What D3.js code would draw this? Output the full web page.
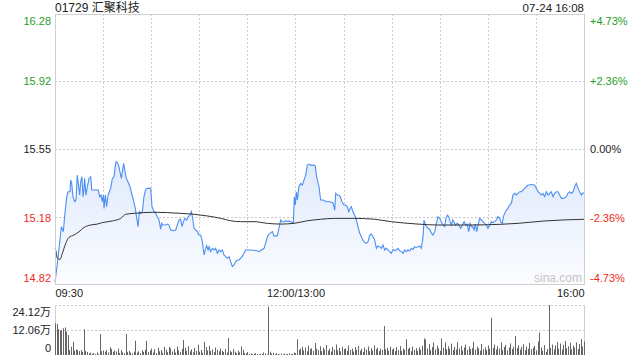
<!DOCTYPE html>
<html><head><meta charset="utf-8">
<script src="https://cdn.jsdelivr.net/npm/d3@7/dist/d3.min.js"></script>
<style>
body{margin:0;background:#fff;}
svg{display:block;font-family:"Liberation Sans",Arial,"Noto Sans CJK SC",sans-serif;}
</style></head>
<body><svg id="c" width="640" height="360"></svg>
<script>
const title = "01729 汇聚科技";
const stamp = "07-24 16:08";
const prevClose = 15.55;
const priceTicks = [16.28, 15.92, 15.55, 15.18, 14.82];
const pctLabels = ["+4.73%", "+2.36%", "0.00%", "-2.36%", "-4.73%"];
const timeTicks = [0, 150, 330];
const timeLabels = ["09:30", "12:00/13:00", "16:00"];
const volTicks = [0, 12.06, 24.12];
const volLabels = ["0", "12.06万", "24.12万"];

// minute index (0 = 09:30, 150 = 12:00/13:00, 330 = 16:00) and price
const priceMin = [0,1.5,3.1,4.0,5.2,6.0,7.3,8.1,9.4,9.8,10.4,11.2,12.3,13.1,13.9,14.8,15.4,16.0,16.8,17.5,18.1,18.5,19.3,20.2,21.2,22.3,22.9,24.3,27.0,27.9,28.7,29.5,30.2,30.6,31.4,32.2,33.1,33.9,34.7,35.8,36.8,37.4,38.1,38.9,39.7,40.3,41.4,42.2,42.8,43.7,44.5,45.5,46.8,47.8,48.9,50.1,51.0,51.8,52.6,53.4,54.5,55.5,56.6,57.6,59.7,60.5,61.3,62.8,63.8,64.9,65.9,66.5,67.4,69.0,70.1,71.1,72.2,73.8,75.3,76.3,77.4,78.4,79.2,80.1,81.1,82.1,83.2,84.2,85.1,85.9,86.7,87.8,88.8,89.8,90.9,91.9,93.0,94.0,94.6,95.5,96.1,97.1,98.2,99.2,100.2,101.3,102.3,103.4,104.4,105.4,106.5,107.5,108.6,109.6,110.6,111.7,112.7,113.7,114.8,115.8,116.9,117.9,118.9,122.1,126.2,127.3,128.7,130.4,131.4,132.5,133.1,134.1,135.6,136.6,137.7,138.7,139.7,140.8,141.6,142.9,143.9,144.9,146.0,147.0,148.1,148.7,149.3,149.9,150.6,151.2,152.2,153.3,154.3,155.3,156.4,157.4,158.5,159.5,160.5,161.6,162.4,163.2,164.7,165.7,167.2,169.3,171.4,173.4,174.5,175.1,176.1,177.0,178.0,179.0,180.3,181.3,182.4,183.2,184.2,184.9,185.9,186.9,188.0,189.0,190.1,191.1,192.1,193.2,194.2,195.3,196.3,197.3,198.4,199.4,200.5,201.5,202.5,203.6,204.6,205.7,206.7,207.7,208.8,209.8,210.9,211.9,212.9,214.0,215.0,216.1,217.1,218.1,219.2,220.2,221.3,222.3,223.3,224.4,225.4,226.5,227.5,228.5,229.6,230.2,231.0,231.9,232.7,233.7,234.8,235.8,236.9,237.9,238.9,240.0,241.0,242.1,243.1,243.9,244.8,245.6,246.4,247.3,248.1,248.9,249.7,251.0,251.8,253.1,254.1,255.2,256.2,257.2,258.1,258.9,259.7,260.6,261.4,262.2,263.1,263.9,264.9,266.0,267.0,268.0,269.1,270.1,271.2,272.2,273.2,274.3,275.3,276.4,277.4,278.0,279.1,279.7,280.5,281.6,282.6,283.6,284.7,285.7,286.8,287.8,288.8,289.9,290.9,292.0,293.0,294.0,295.1,296.1,297.2,298.2,299.2,300.3,301.3,302.4,303.4,304.4,305.5,306.5,307.6,308.6,309.6,310.7,311.7,312.8,313.8,314.8,315.9,316.9,318.0,319.0,320.0,321.1,322.1,323.2,324.2,325.2,326.3,327.3,328.4,329.0,330];
const priceVal = [14.83,14.932,15.058,15.130,15.103,15.184,15.292,15.319,15.319,15.382,15.364,15.292,15.265,15.274,15.409,15.346,15.301,15.373,15.400,15.292,15.337,15.391,15.301,15.346,15.391,15.400,15.328,15.328,15.328,15.292,15.301,15.265,15.301,15.229,15.301,15.238,15.301,15.319,15.337,15.391,15.400,15.445,15.481,15.476,15.463,15.436,15.391,15.436,15.472,15.427,15.391,15.373,15.346,15.310,15.274,15.229,15.175,15.130,15.211,15.202,15.211,15.292,15.332,15.337,15.337,15.238,15.220,15.202,15.184,15.166,15.116,15.148,15.139,15.139,15.144,15.139,15.112,15.108,15.112,15.139,15.166,15.170,15.130,15.157,15.175,15.166,15.184,15.193,15.211,15.175,15.121,15.112,15.103,15.085,15.085,15.049,14.977,15.013,15.027,15.004,15.022,14.995,15.013,15.004,15.013,14.986,15.004,14.995,15.004,14.977,14.968,14.959,14.968,14.941,14.914,14.923,14.941,14.950,14.950,14.959,14.971,14.986,15.004,15.004,15.000,14.995,15.004,15.013,15.040,15.076,15.085,15.094,15.103,15.080,15.080,15.081,15.121,15.166,15.157,15.157,15.162,15.157,15.161,15.157,15.152,15.152,15.292,15.247,15.319,15.274,15.346,15.364,15.355,15.382,15.409,15.463,15.467,15.463,15.463,15.463,15.458,15.400,15.346,15.274,15.274,15.265,15.265,15.260,15.220,15.310,15.301,15.301,15.292,15.265,15.247,15.247,15.238,15.211,15.229,15.238,15.211,15.193,15.166,15.130,15.094,15.076,15.058,15.044,15.040,15.049,15.085,15.090,15.076,15.058,15.013,15.026,15.022,15.013,15.031,15.004,15.013,15.004,14.995,14.986,15.007,15.000,15.004,15.013,15.000,14.995,14.986,15.004,14.995,15.004,14.998,15.013,15.007,15.022,15.018,15.022,15.026,15.013,15.076,15.166,15.139,15.130,15.121,15.116,15.094,15.085,15.103,15.148,15.184,15.175,15.157,15.139,15.130,15.175,15.193,15.184,15.157,15.139,15.166,15.157,15.139,15.148,15.139,15.121,15.139,15.157,15.139,15.144,15.103,15.148,15.130,15.130,15.112,15.144,15.103,15.139,15.175,15.166,15.157,15.148,15.139,15.121,15.139,15.157,15.152,15.157,15.166,15.184,15.175,15.157,15.148,15.184,15.202,15.220,15.229,15.247,15.256,15.301,15.310,15.301,15.310,15.319,15.319,15.328,15.337,15.346,15.355,15.355,15.359,15.355,15.355,15.337,15.319,15.310,15.301,15.310,15.292,15.319,15.301,15.310,15.319,15.292,15.310,15.319,15.319,15.301,15.283,15.283,15.287,15.292,15.310,15.319,15.310,15.319,15.346,15.364,15.337,15.319,15.301,15.310,15.314];

const avgMin = [0,0.4,1.5,3.1,4.6,6.7,8.7,11.9,15.0,18.1,22.2,26.4,29.5,35.8,41.0,44.1,49.3,55.5,61.8,70.1,78.4,86.7,95.0,103.4,109.6,115.8,124.1,132.5,140.8,149.1,157.4,165.7,174.5,186.9,199.4,209.8,226.5,238.9,257.6,278.4,288.8,305.5,330];
const avgVal = [15.013,15.004,14.959,14.953,14.986,15.040,15.072,15.085,15.103,15.126,15.139,15.144,15.152,15.161,15.175,15.197,15.202,15.206,15.208,15.206,15.202,15.197,15.188,15.175,15.162,15.157,15.157,15.148,15.144,15.148,15.162,15.170,15.175,15.175,15.170,15.157,15.144,15.139,15.139,15.143,15.148,15.161,15.170];

// volume per minute, unit 万 shares (index = minute)
const volumes = [15.3,15.0,12.4,11.7,12.1,12.9,13.3,11.3,9.6,
2.4,4.0,6.4,2.1,2.7,2.4,1.9,2.4,1.5,
12.5,
1.9,1.5,0.8,1.2,0.6,1.0,0.5,1.3,0.4,
10.1,
1.8,2.1,1.6,2.4,1.2,3.8,2.9,1.5,2.2,1.7,3.1,1.0,2.4,1.3,0.9,
10.1,
1.5,2.0,1.2,0.8,1.6,
6.9,
1.2,1.8,0.9,2.3,1.5,2.6,
6.8,
1.5,2.2,3.1,1.2,2.8,0.9,3.5,1.8,2.4,1.1,3.9,2.6,1.4,4.0,3.2,1.7,2.9,1.2,4.1,2.3,1.5,3.0,
7.2,
3.5,2.1,4.2,1.8,2.7,1.3,3.4,2.0,5.0,1.6,2.5,1.1,
6.4,
3.8,2.2,4.4,1.9,2.7,1.4,3.6,2.5,1.8,3.1,2.0,1.5,2.9,1.2,
8.2,
2.1,1.4,2.8,1.6,0.9,2.2,1.3,4.1,2.5,1.0,0.8,1.4,0.6,0.7,0.4,0.6,0.9,0.5,0.3,0.6,0.4,1.2,0.7,0.3,
23.3,
1.6,0.7,1.1,0.4,0.9,0.5,0.3,0.7,0.4,0.6,0.3,0.5,0.8,0.4,0.6,1.2,0.9,
7.6,
2.5,3.1,4.0,2.2,3.6,1.8,4.5,2.8,3.3,2.0,5.8,3.1,2.4,4.2,1.9,3.5,2.7,4.8,2.1,3.0,1.6,3.9,2.6,5.1,2.3,3.4,1.8,4.0,2.9,3.2,2.0,4.6,2.4,3.1,1.7,3.8,2.5,4.3,2.1,3.0,1.5,3.6,2.6,4.1,1.9,3.3,2.2,4.7,2.8,3.5,1.9,3.0,2.4,
14.0,
2.8,3.5,2.1,4.0,2.6,3.2,1.9,3.8,2.4,4.3,2.0,3.1,2.5,
7.6,
2.9,3.6,1.8,4.1,2.5,3.3,2.0,3.7,2.6,4.4,
8.0,
7.5,3.1,5.2,2.4,3.8,6.0,2.7,4.5,3.2,2.0,
8.0,
3.5,6.1,2.8,4.2,3.0,5.5,2.4,3.9,2.7,6.2,3.1,4.4,2.2,3.6,5.0,2.5,4.1,2.9,3.3,6.4,2.6,4.0,3.2,2.1,5.3,2.8,3.7,2.4,4.6,3.0,
18.0,
3.4,5.1,2.7,4.3,3.1,6.0,2.5,3.8,4.9,2.2,3.6,5.6,2.9,4.0,
9.2,
3.3,4.7,2.6,3.9,5.2,2.4,4.1,3.0,5.8,2.8,3.5,4.4,2.3,6.5,
10.8,
3.6,2.1,4.8,1.5,2.9,
24.12,
3.4,5.0,2.7,4.6,6.2,3.1,5.5,2.6,4.9,6.8,3.3,4.2,5.9,2.8,4.5,3.6,6.1,2.9,5.3,
7.7,
4.1,6.5];

const svg = d3.select("#c");
const L = 55, R = 584, T = 14, B = 284, VT = 305, VB = 355;
const green = "#1f9e1f", red = "#ee2a22", black = "#222";
const colorFor = v => v > prevClose ? green : (v < prevClose ? red : black);

const x = d3.scaleLinear().domain([0, 330]).range([L, R]);
const y = d3.scaleLinear().domain([14.82, 16.28]).range([B, T]);
const yv = d3.scaleLinear().domain([0, 24.12]).range([VB, VT]);

// title
svg.append("text").attr("x", L).attr("y", 12).attr("font-size", 12).attr("fill", "#222").text(title);
svg.append("text").attr("x", R).attr("y", 12).attr("font-size", 11.5).attr("fill", "#222").attr("text-anchor", "end").text(stamp);

// gradient
const defs = svg.append("defs");
const g = defs.append("linearGradient").attr("id", "fillg").attr("gradientUnits", "userSpaceOnUse")
  .attr("x1", 0).attr("x2", 0).attr("y1", 150).attr("y2", B);
g.append("stop").attr("offset", 0).attr("stop-color", "#dde8fb");
g.append("stop").attr("offset", 1).attr("stop-color", "#fbfcff");

// grid
const grid = svg.append("g");
[15.92, 15.55, 15.18].forEach(v => {
  grid.append("line").attr("x1", L).attr("x2", R).attr("y1", Math.round(y(v)) + 0.5).attr("y2", Math.round(y(v)) + 0.5)
    .attr("stroke", "#c8c8c8").attr("stroke-dasharray", "2,2");
});
d3.range(30, 330, 30).forEach(m => {
  const xx = Math.round(x(m)) + 0.5;
  grid.append("line").attr("x1", xx).attr("x2", xx).attr("y1", T).attr("y2", B)
    .attr("stroke", "#d0d0d0").attr("stroke-dasharray", "2,2");
});

// area + lines
const pts = priceMin.map((m, i) => [m, priceVal[i]]);
svg.append("path").datum(pts)
  .attr("d", d3.area().x(d => x(d[0])).y0(B).y1(d => y(d[1])))
  .attr("fill", "url(#fillg)");

// watermark
svg.append("text").attr("x", 582).attr("y", 282).attr("text-anchor", "end").attr("font-size", 12)
  .attr("fill", "#c4c4c4").text("sina.com");

svg.append("path").datum(pts)
  .attr("d", d3.line().x(d => x(d[0])).y(d => y(d[1])))
  .attr("fill", "none").attr("stroke", "#4b8ff0").attr("stroke-width", 1.1);
const apts = avgMin.map((m, i) => [m, avgVal[i]]);
svg.append("path").datum(apts)
  .attr("d", d3.line().curve(d3.curveMonotoneX).x(d => x(d[0])).y(d => y(d[1])))
  .attr("fill", "none").attr("stroke", "#333").attr("stroke-width", 1);

// border
svg.append("rect").attr("x", L + 0.5).attr("y", T + 0.5).attr("width", R - L).attr("height", B - T)
  .attr("fill", "none").attr("stroke", "#cfcfcf");

// axes
const leftAx = svg.append("g").attr("transform", `translate(${L},0)`)
  .call(d3.axisLeft(y).tickValues(priceTicks).tickSize(0).tickPadding(4).tickFormat(d3.format(".2f")));
const rightAx = svg.append("g").attr("transform", `translate(${R},0)`)
  .call(d3.axisRight(y).tickValues(priceTicks).tickSize(0).tickPadding(6).tickFormat((d, i) => pctLabels[i]));
[leftAx, rightAx].forEach(ax => {
  ax.select(".domain").remove();
  ax.selectAll("text").attr("font-size", 11).attr("font-family", "Liberation Sans, Arial, sans-serif")
    .attr("fill", d => colorFor(d))
    .attr("dy", d => d === 16.28 ? "0.95em" : (d === 14.82 ? "-0.25em" : "0.35em"));
});

const bottomAx = svg.append("g").attr("transform", `translate(0,${B})`)
  .call(d3.axisBottom(x).tickValues(timeTicks).tickSize(0).tickPadding(5).tickFormat((d, i) => timeLabels[i]));
bottomAx.select(".domain").remove();
bottomAx.selectAll("text").attr("font-size", 11).attr("font-family", "Liberation Sans, Arial, sans-serif").attr("fill", "#222")
  .attr("text-anchor", (d, i) => i === 0 ? "start" : (i === 2 ? "end" : "middle"));

// volume panel
const vg = svg.append("g");
[24.12, 12.06].forEach(v => {
  vg.append("line").attr("x1", L).attr("x2", R).attr("y1", Math.round(yv(v)) + 0.5).attr("y2", Math.round(yv(v)) + 0.5)
    .attr("stroke", "#c8c8c8").attr("stroke-dasharray", "2,2");
});
vg.append("line").attr("x1", L + 0.5).attr("x2", L + 0.5).attr("y1", VT).attr("y2", VB).attr("stroke", "#cfcfcf");
vg.append("line").attr("x1", R + 0.5).attr("x2", R + 0.5).attr("y1", VT).attr("y2", VB).attr("stroke", "#cfcfcf");
vg.selectAll("rect.bar").data(volumes).join("rect").attr("class", "bar")
  .attr("x", (d, i) => Math.round(x(i)))
  .attr("width", 1)
  .attr("y", d => yv(d))
  .attr("height", d => VB - yv(d))
  .attr("fill", "#666");

const volAx = svg.append("g").attr("transform", `translate(${L},0)`)
  .call(d3.axisLeft(yv).tickValues(volTicks).tickSize(0).tickPadding(4).tickFormat((d, i) => volLabels[i]));
volAx.select(".domain").remove();
volAx.selectAll("text").attr("font-size", 11).attr("font-family", "Liberation Sans, Arial, Noto Sans CJK SC, sans-serif").attr("fill", "#222")
  .attr("dy", d => d === 24.12 ? "0.95em" : (d === 0 ? "-0.3em" : "0.35em"));
</script>
</body></html>
